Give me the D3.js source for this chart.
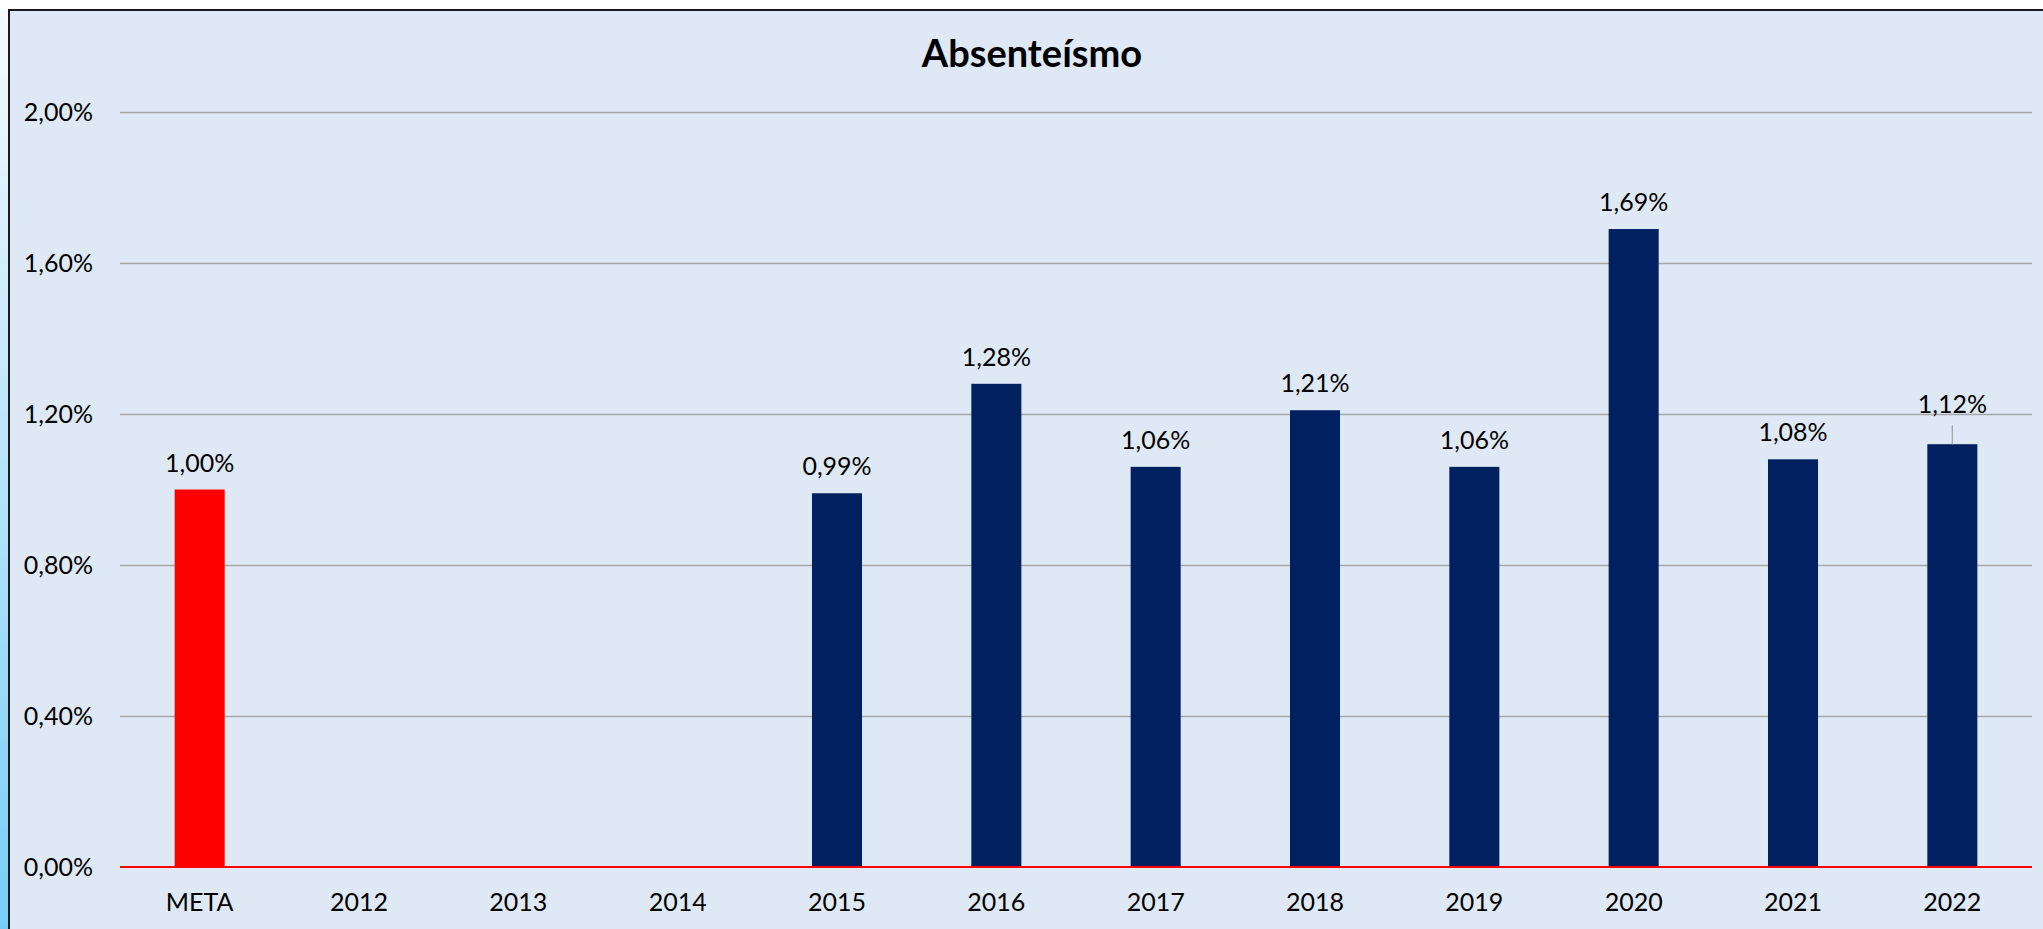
<!DOCTYPE html>
<html>
<head>
<meta charset="utf-8">
<script src="https://cdn.jsdelivr.net/npm/d3@7"></script>
<style>
  html, body { margin: 0; padding: 0; background: #fff; }
  svg { display: block; font-family: Lato, "Open Sans", sans-serif; }
</style>
</head>
<body>
<svg id="chart"></svg>
<script>
// chart data
const categories = ["META", "2012", "2013", "2014", "2015", "2016", "2017", "2018", "2019", "2020", "2021", "2022"];
const values = [1.00, null, null, null, 0.99, 1.28, 1.06, 1.21, 1.06, 1.69, 1.08, 1.12];
const yTicks = [0, 0.4, 0.8, 1.2, 1.6, 2.0];
const chartTitle = "Absenteísmo";

const width = 2043;
const height = 929;
const margin = {top: 112, right: 11, bottom: 62, left: 120};
const fontSize = 25;

const ptBR = d3.formatLocale({decimal: ",", thousands: ".", grouping: [3], currency: ["R$", ""]});
const fmt = v => ptBR.format(".2f")(v) + "%";

const svg = d3.select("#chart")
    .attr("width", width)
    .attr("height", height);

// sheet strip on the left
const grad = svg.append("defs").append("linearGradient")
    .attr("id", "strip").attr("x1", 0).attr("y1", 0).attr("x2", 0).attr("y2", 1);
grad.append("stop").attr("offset", "0%").attr("stop-color", "#f7fbfe");
grad.append("stop").attr("offset", "100%").attr("stop-color", "#79cdf5");
svg.append("rect").attr("x", 0).attr("y", 0).attr("width", 10).attr("height", height).attr("fill", "url(#strip)");
svg.append("rect").attr("x", 0).attr("y", 0).attr("width", width).attr("height", 10).attr("fill", "#ffffff");

// chart area
svg.append("rect")
    .attr("x", 9).attr("y", 10)
    .attr("width", width).attr("height", height)
    .attr("fill", "#dee9f5");
svg.append("path")
    .attr("d", `M9,${height}V10H${width}`)
    .attr("fill", "none")
    .attr("stroke", "#1a1a1a")
    .attr("stroke-width", 2);

svg.append("text")
    .attr("x", 1032).attr("y", 67)
    .attr("text-anchor", "middle")
    .attr("font-weight", "bold")
    .attr("font-size", 38)
    .attr("fill", "#000")
    .text(chartTitle);

const innerW = width - margin.left - margin.right;
const innerH = height - margin.top - margin.bottom;

const g = svg.append("g")
    .attr("transform", `translate(${margin.left},${margin.top})`);

const xScale = d3.scaleBand()
    .domain(categories)
    .range([0, innerW])
    .paddingInner(0.686)
    .paddingOuter(0.343);

const yScale = d3.scaleLinear()
    .domain([0, 2])
    .range([innerH, 0]);

// gridlines + y labels
const yAxis = g.append("g")
    .call(d3.axisLeft(yScale).tickValues(yTicks).tickFormat(fmt).tickSize(-innerW).tickPadding(27));
yAxis.select(".domain").remove();
yAxis.selectAll(".tick line")
    .attr("stroke", "#a6a6a6")
    .attr("stroke-width", 1.3)
    .attr("opacity", d => d === 0 ? 0 : 1);
yAxis.selectAll(".tick text")
    .attr("font-size", fontSize)
    .attr("fill", "#000")
    .attr("font-family", "Lato, sans-serif");

// x labels
const xAxis = g.append("g")
    .attr("transform", `translate(0,${innerH})`)
    .call(d3.axisBottom(xScale).tickSize(0).tickPadding(26));
xAxis.select(".domain").remove();
xAxis.selectAll(".tick text")
    .attr("font-size", fontSize)
    .attr("fill", "#000")
    .attr("font-family", "Lato, sans-serif");

const rows = categories.map((c, i) => ({cat: c, val: values[i]})).filter(d => d.val != null);

// bars
g.selectAll(".bar")
    .data(rows)
    .enter().append("rect")
    .classed("bar", true)
    .attr("x", d => xScale(d.cat))
    .attr("y", d => yScale(d.val))
    .attr("width", xScale.bandwidth())
    .attr("height", d => innerH - yScale(d.val))
    .attr("fill", d => d.cat === "META" ? "#ff0000" : "#002060");

// baseline in red
g.append("line")
    .attr("x1", 0).attr("x2", innerW)
    .attr("y1", innerH).attr("y2", innerH)
    .attr("stroke", "#ff0000")
    .attr("stroke-width", 2);

// data labels; the last one was dragged up in the original and got a leader line
const raised = "2022";
const raiseBy = 13;
g.selectAll(".bar-label")
    .data(rows)
    .enter().append("text")
    .classed("bar-label", true)
    .attr("x", d => xScale(d.cat) + xScale.bandwidth() / 2)
    .attr("y", d => yScale(d.val) - 18 - (d.cat === raised ? raiseBy : 0))
    .attr("text-anchor", "middle")
    .attr("font-size", fontSize)
    .attr("fill", "#000")
    .text(d => fmt(d.val));

rows.filter(d => d.cat === raised).forEach(d => {
    const cx = xScale(d.cat) + xScale.bandwidth() / 2;
    g.append("line")
        .attr("x1", cx).attr("x2", cx)
        .attr("y1", yScale(d.val) - 19).attr("y2", yScale(d.val))
        .attr("stroke", "#a6a6a6")
        .attr("stroke-width", 1.3);
});
</script>
</body>
</html>
